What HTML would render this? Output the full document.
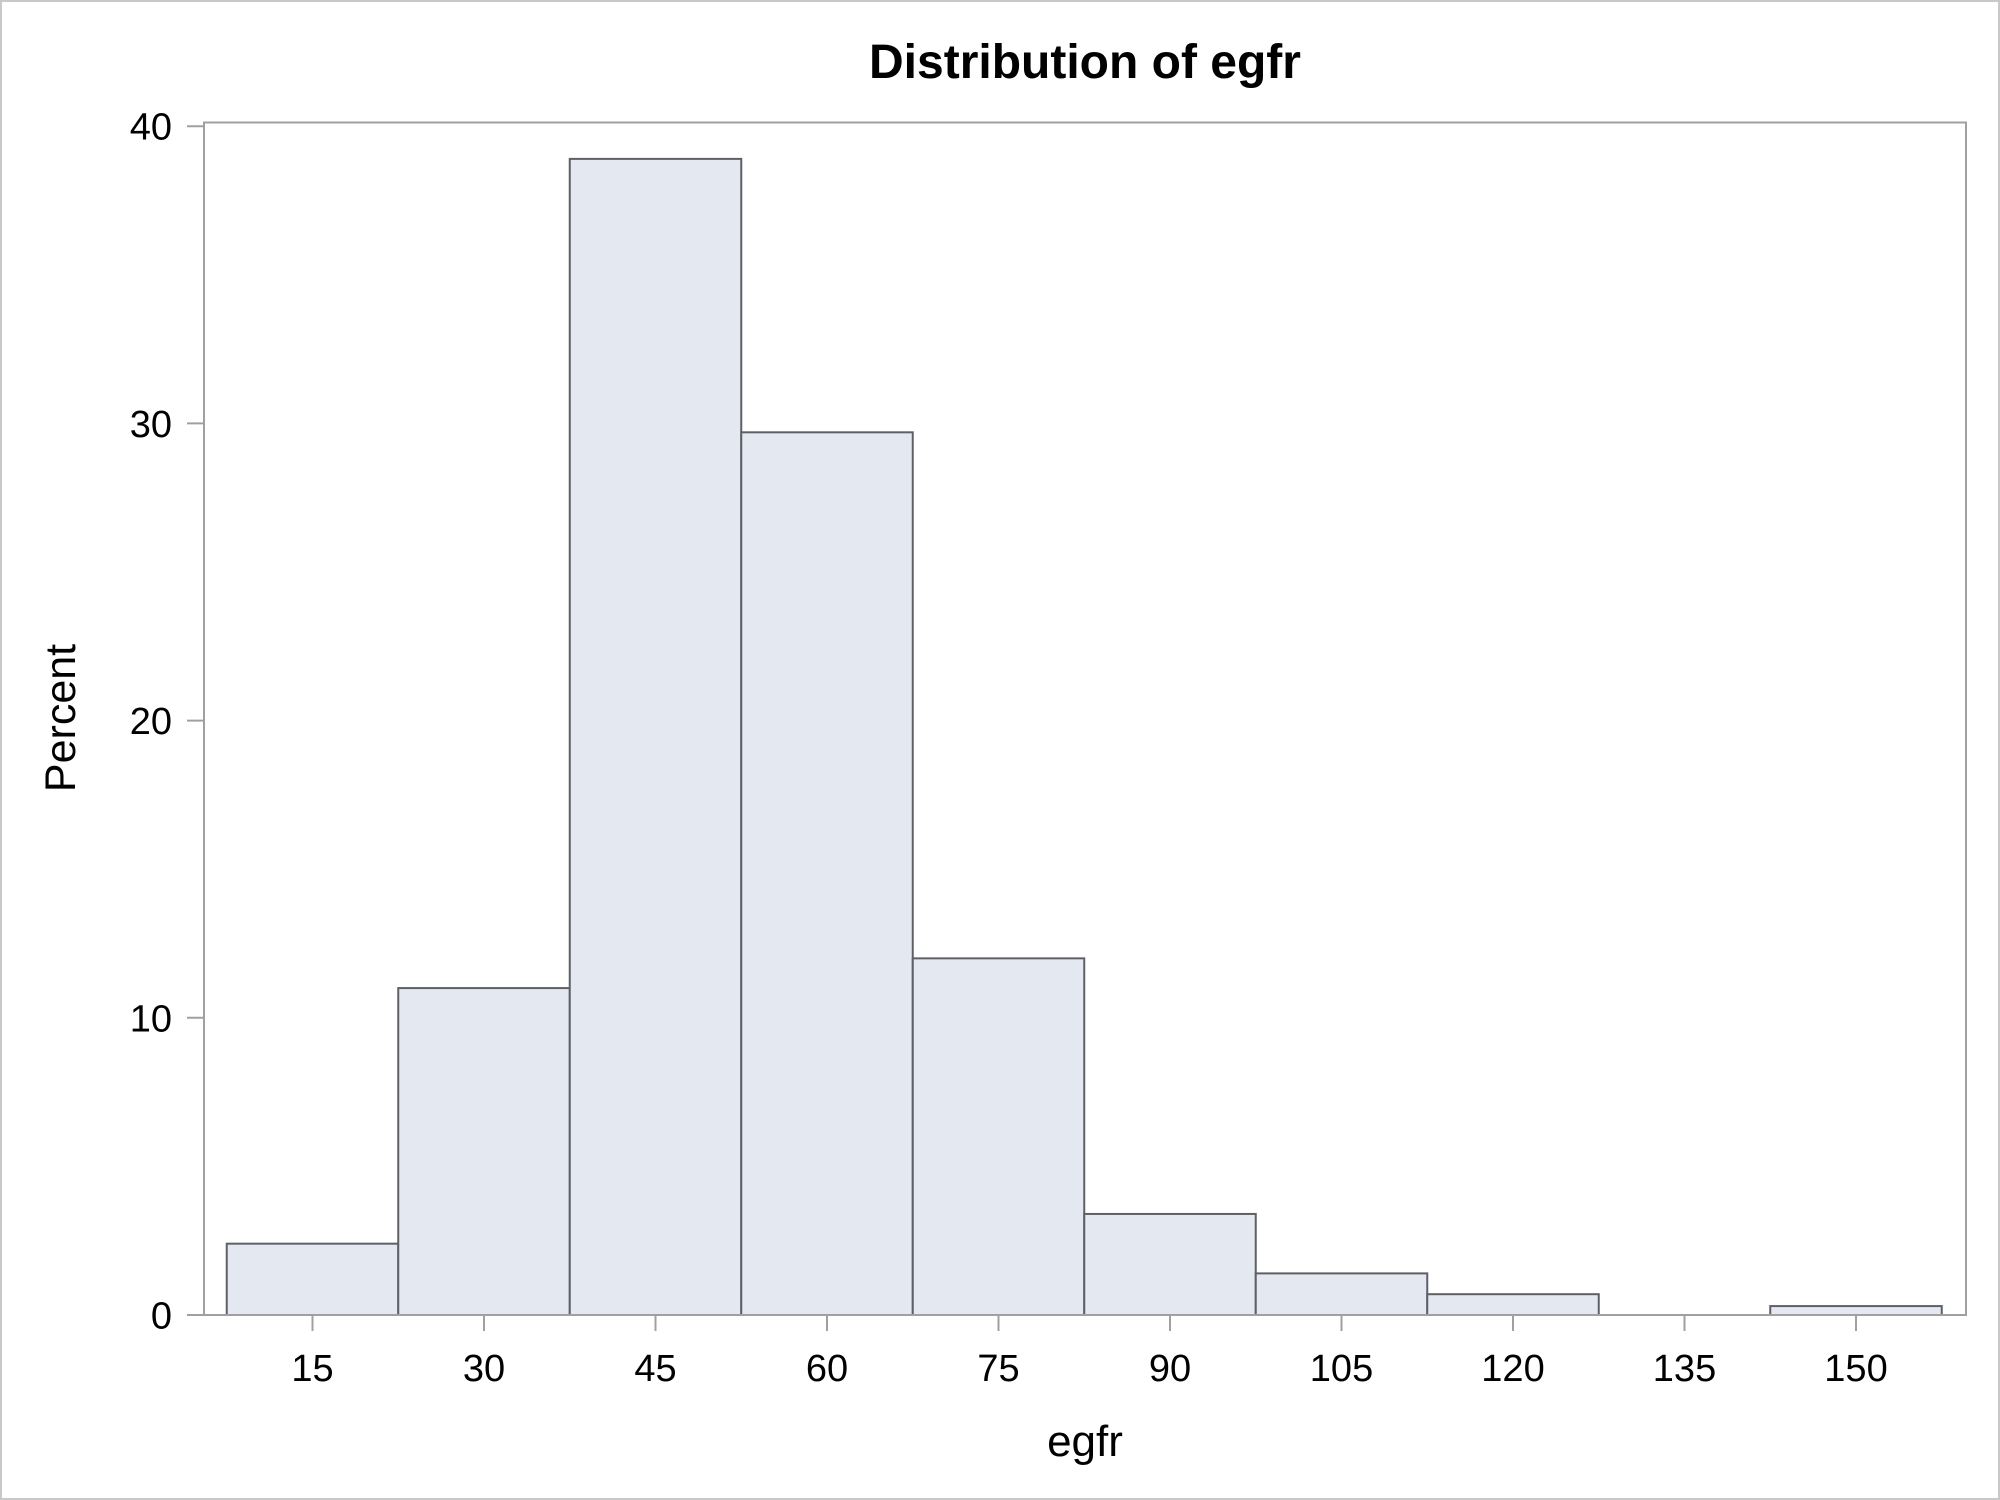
<!DOCTYPE html>
<html><head><meta charset="utf-8"><style>
html,body{margin:0;padding:0;background:#fff;}
svg{display:block;font-family:"Liberation Sans",Arial,sans-serif;}
</style></head><body>
<svg id="chart" width="2000" height="1500" viewBox="0 0 2000 1500" xmlns="http://www.w3.org/2000/svg">
<rect x="1" y="1" width="1998" height="1498" fill="#fff" stroke="#c8c8c8" stroke-width="2"/>
<text x="1085" y="78" text-anchor="middle" font-size="48" font-weight="bold" fill="#000">Distribution of egfr</text>
<g id="bars"></g>
<rect x="204" y="122.5" width="1762" height="1192.5" fill="none" stroke="#a0a0a0" stroke-width="2"/>
<g id="yaxis"></g>
<g id="xaxis"></g>
<text transform="translate(75,718) rotate(-90)" text-anchor="middle" font-size="43" fill="#000">Percent</text>
<text x="1085" y="1456" text-anchor="middle" font-size="44" fill="#000">egfr</text>
</svg>
<script>
const binCenters = [15,30,45,60,75,90,105,120,135,150];
const percents = [2.4,11.0,38.9,29.7,12.0,3.4,1.4,0.7,0,0.3];
const yTicks = [0,10,20,30,40];
const xTicks = [15,30,45,60,75,90,105,120,135,150];
const binWidth = 15;
const NS="http://www.w3.org/2000/svg";
function xs(v){return 312.5+(v-15)*(1543.5/135);}
function ys(v){return 1315-v*29.72;}
const bars=document.getElementById('bars');
binCenters.forEach((c,i)=>{
  const r=document.createElementNS(NS,'rect');
  const x0=xs(c-binWidth/2), x1=xs(c+binWidth/2), y0=ys(percents[i]);
  r.setAttribute('x',x0);r.setAttribute('y',y0);
  r.setAttribute('width',x1-x0);r.setAttribute('height',ys(0)-y0);
  r.setAttribute('fill','#e4e8f1');r.setAttribute('stroke','#5d6067');r.setAttribute('stroke-width','2');
  
  
  bars.appendChild(r);
});
const ya=document.getElementById('yaxis');
yTicks.forEach(t=>{
  const l=document.createElementNS(NS,'line');
  l.setAttribute('x1',187);l.setAttribute('x2',204);l.setAttribute('y1',ys(t));l.setAttribute('y2',ys(t));
  l.setAttribute('stroke','#a0a0a0');l.setAttribute('stroke-width','2');
  
  
  ya.appendChild(l);
  const tx=document.createElementNS(NS,'text');
  tx.setAttribute('x',172);tx.setAttribute('y',ys(t)+13.5);tx.setAttribute('text-anchor','end');tx.setAttribute('font-size','38');
  tx.textContent=t;
  
  
  ya.appendChild(tx);
});
const xa=document.getElementById('xaxis');
xTicks.forEach(t=>{
  const l=document.createElementNS(NS,'line');
  l.setAttribute('x1',xs(t));l.setAttribute('x2',xs(t));l.setAttribute('y1',1315);l.setAttribute('y2',1331);
  l.setAttribute('stroke','#a0a0a0');l.setAttribute('stroke-width','2');
  
  
  xa.appendChild(l);
  const tx=document.createElementNS(NS,'text');
  tx.setAttribute('x',xs(t));tx.setAttribute('y',1381);tx.setAttribute('text-anchor','middle');tx.setAttribute('font-size','38');
  tx.textContent=t;
  
  
  xa.appendChild(tx);
});
</script>
</body></html>
